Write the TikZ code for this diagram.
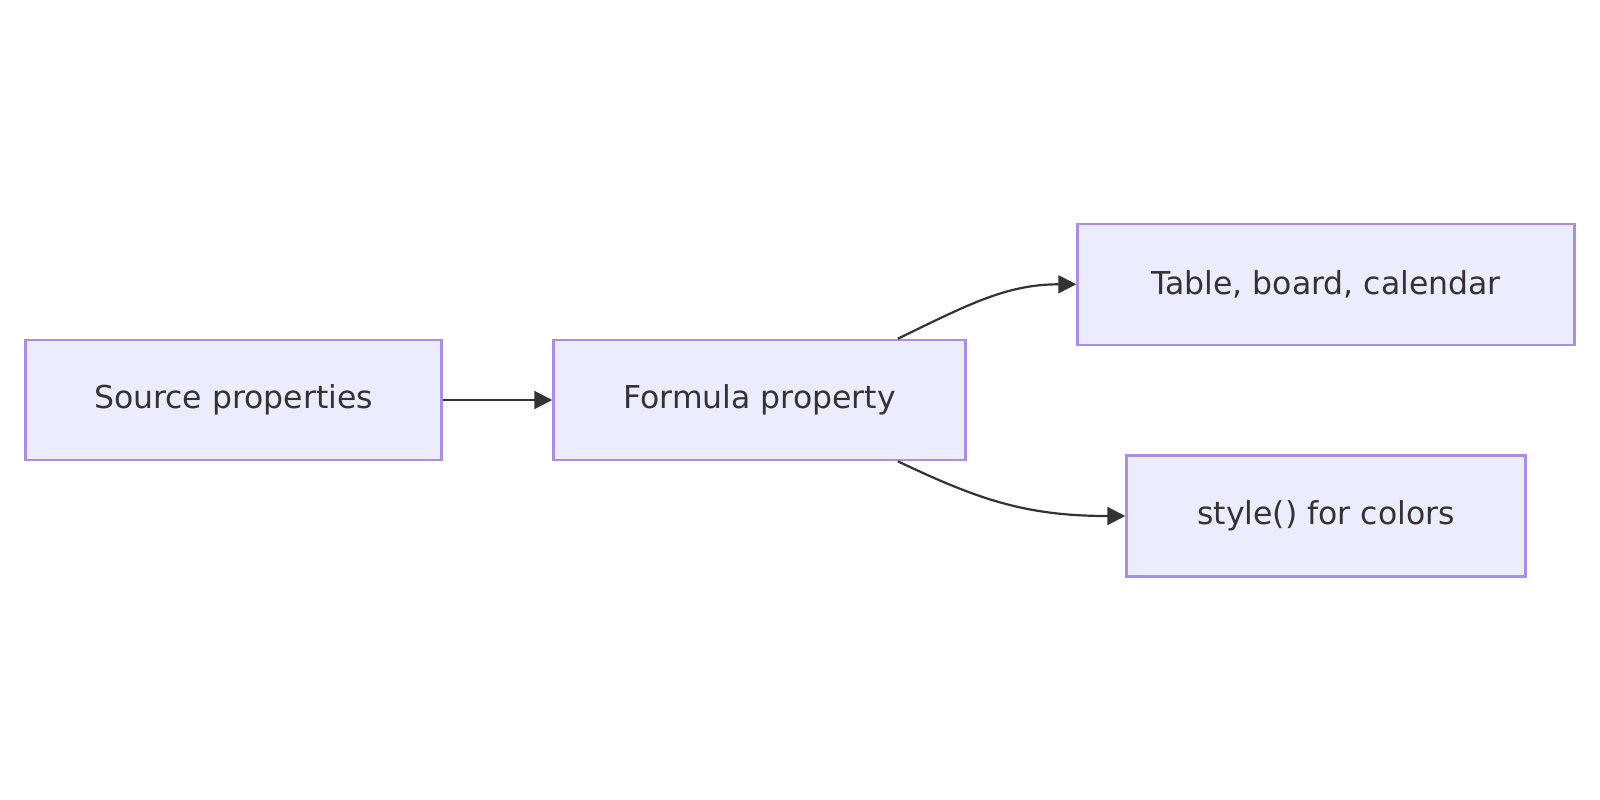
\documentclass[tikz,border=0pt]{standalone}
\usepackage{fontspec}
\setmainfont{DejaVu Sans}
\usetikzlibrary{arrows.meta,calc}
\definecolor{nodefill}{HTML}{ECECFF}
\definecolor{nodeline}{HTML}{A88EE6}
\definecolor{txt}{HTML}{333333}
\tikzset{
  box/.style={rectangle, draw=nodeline, fill=nodefill, line width=2.5pt, inner sep=0pt,
    minimum height=120pt, text=txt, font=\fontsize{31.5}{38}\selectfont},
  arr/.style={draw=txt, line width=2.2pt, -{Triangle[length=18pt,width=18pt]}}
}
\begin{document}
\begin{tikzpicture}[x=1pt,y=-1pt]
\useasboundingbox[fill=white] (0,0) rectangle (1600,800);
\node[box, minimum width=416pt] (src) at (233.6,400) {Source properties};
\node[box, minimum width=412pt] (form) at (759.5,400) {Formula property};
\node[box, minimum width=497pt, minimum height=121pt] (tab) at (1326,284.3) {Table, board, calendar};
\node[box, minimum width=399pt, minimum height=121pt] (sty) at (1326,516) {style() for colors};
\draw[arr] (src.east) -- (form.west);
\coordinate (fu) at ($(form.north east)+(-69,0)$);
\coordinate (fd) at ($(form.south east)+(-69,0)$);
\draw[arr] (fu) .. controls ($(fu)+(70,-34)$) and ($(tab.west)+(-70,0)$) .. (tab.west);
\draw[arr] (fd) .. controls ($(fd)+(80,38)$) and ($(sty.west)+(-100,0)$) .. (sty.west);
\end{tikzpicture}
\end{document}
